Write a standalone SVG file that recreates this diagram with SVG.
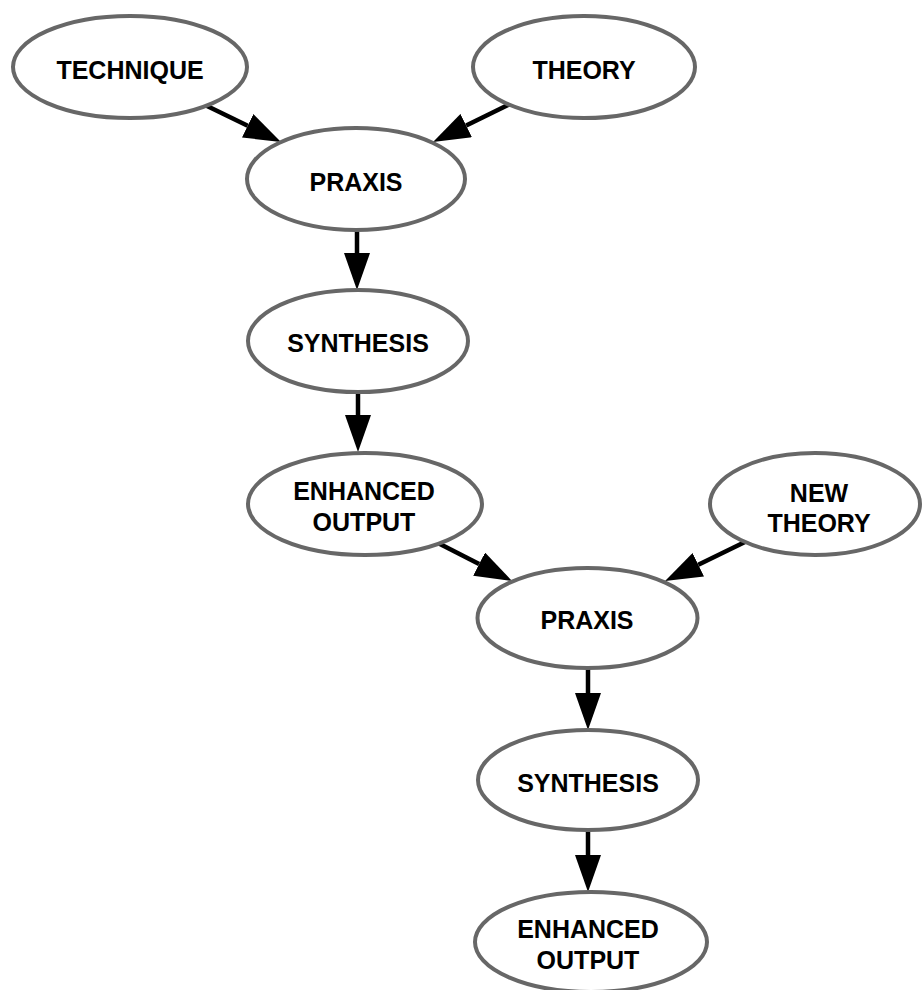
<svg xmlns="http://www.w3.org/2000/svg" width="922" height="990" viewBox="0 0 922 990">
<style>
.node ellipse{fill:#ffffff;stroke:#676767;stroke-width:4}
.node text{font-family:"Liberation Sans",Arial,Helvetica,sans-serif;font-weight:bold;font-size:25px;fill:#000;text-anchor:middle}
.edge{stroke:#000;stroke-width:4.5;fill:none;marker-end:url(#ah)}
</style>
<defs>
<marker id="ah" markerUnits="userSpaceOnUse" viewBox="0 0 37 26" markerWidth="37" markerHeight="26" refX="0" refY="13" orient="auto">
<path d="M0,0 L37,13 L0,26 z" fill="#000"/>
</marker>
</defs>
<rect width="922" height="990" fill="#ffffff"/>
<g id="connectors">
<path class="edge" d="M205,105 L247.7,125.8"/>
<path class="edge" d="M510,104 L466.2,125.6"/>
<path class="edge" d="M357,230 L357,253"/>
<path class="edge" d="M358,392 L358,415"/>
<path class="edge" d="M438,543 L479.1,564.1"/>
<path class="edge" d="M747,541 L698.3,564.8"/>
<path class="edge" d="M588,668 L588,693"/>
<path class="edge" d="M588,830 L588,855"/>
</g>
<g id="technique" class="node">
<ellipse cx="130" cy="67" rx="117" ry="51"/>
<text x="130" y="79">TECHNIQUE</text>
</g>
<g id="theory" class="node">
<ellipse cx="584" cy="67" rx="111" ry="51"/>
<text x="584" y="79">THEORY</text>
</g>
<g id="praxis1" class="node">
<ellipse cx="356" cy="179" rx="109" ry="51"/>
<text x="356" y="191">PRAXIS</text>
</g>
<g id="synthesis1" class="node">
<ellipse cx="358" cy="341" rx="110" ry="51"/>
<text x="358" y="352">SYNTHESIS</text>
</g>
<g id="enhanced-output1" class="node">
<ellipse cx="365" cy="504" rx="117" ry="51"/>
<text x="364" y="500">ENHANCED</text>
<text x="364" y="531">OUTPUT</text>
</g>
<g id="new-theory" class="node">
<ellipse cx="815" cy="504" rx="105" ry="51"/>
<text x="819" y="502">NEW</text>
<text x="819" y="532">THEORY</text>
</g>
<g id="praxis2" class="node">
<ellipse cx="587.5" cy="618" rx="110" ry="50"/>
<text x="587" y="629">PRAXIS</text>
</g>
<g id="synthesis2" class="node">
<ellipse cx="588" cy="780" rx="110" ry="50"/>
<text x="588" y="792">SYNTHESIS</text>
</g>
<g id="enhanced-output2" class="node">
<ellipse cx="591" cy="942" rx="116" ry="50"/>
<text x="588" y="938">ENHANCED</text>
<text x="588" y="969">OUTPUT</text>
</g>
</svg>
